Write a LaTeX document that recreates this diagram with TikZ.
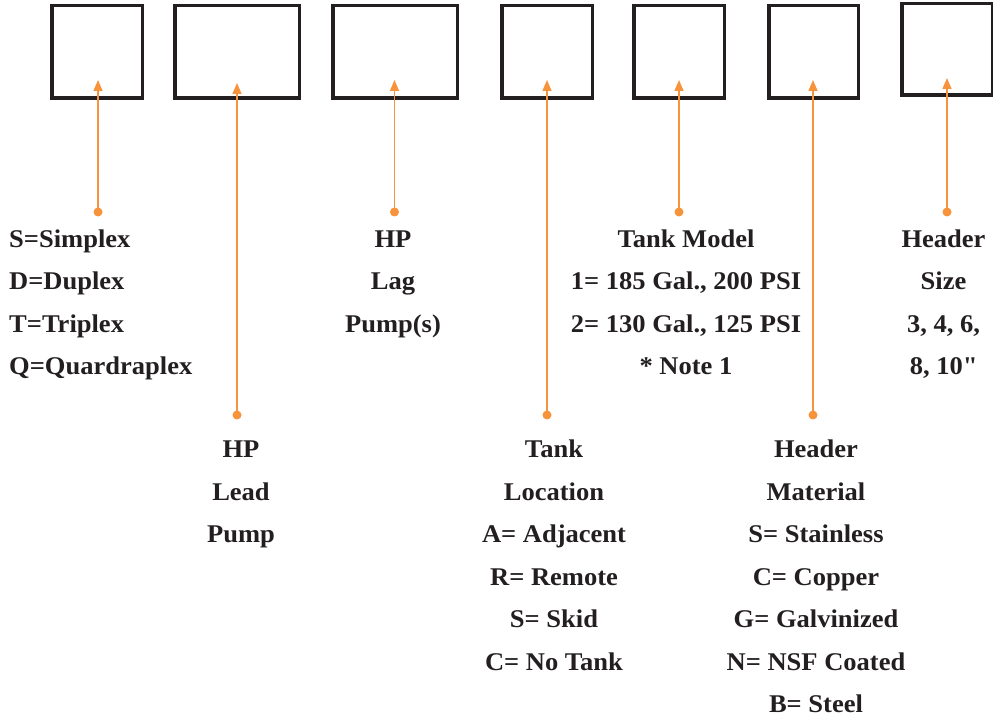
\documentclass[tikz,border=0pt]{standalone}
\usepackage{fontspec}
\setmainfont[FakeStretch=1.04]{Liberation Serif}
\usetikzlibrary{arrows.meta}
\definecolor{ink}{RGB}{35,31,32}
\definecolor{orng}{RGB}{247,148,59}
\begin{document}
\begin{tikzpicture}[x=1pt,y=-1pt,
  box/.style={draw=ink,line width=3.5pt,inner sep=0pt,minimum height=92.5pt},
  dot/.style={circle,fill=orng,inner sep=0pt,minimum size=9pt},
  conn/.style={draw=orng,line width=1.5pt,-{Triangle[length=11pt,width=9pt]},shorten <=-2pt},
  lbl/.style={text=ink,inner sep=0pt,align=center,anchor=north,
    font=\fontsize{25.5}{42.5}\selectfont\bfseries},
  lbll/.style={lbl,align=left,anchor=north west}]
\useasboundingbox (0,0) rectangle (993,719);
% boxes
\node[box,minimum width=90.5pt] (b1) at (97,52) {};
\node[box,minimum width=124.5pt] (b2) at (237,52) {};
\node[box,minimum width=124.5pt] (b3) at (395,52) {};
\node[box,minimum width=90.5pt] (b4) at (547,52) {};
\node[box,minimum width=90.5pt] (b5) at (679,52) {};
\node[box,minimum width=89.5pt] (b6) at (813.5,52) {};
\node[box,minimum width=90.5pt,minimum height=91.5pt] (b7) at (947,49.5) {};
% arrow tips
\coordinate (t1) at (98,80);
\coordinate (t2) at (237,83);
\coordinate (t3) at (394.5,80);
\coordinate (t4) at (547,80);
\coordinate (t5) at (679,80);
\coordinate (t6) at (813,80);
\coordinate (t7) at (947,78);
% dots
\node[dot] (d1) at (98,212) {};
\node[dot] (d2) at (237,415) {};
\node[dot] (d3) at (394.5,212) {};
\node[dot] (d4) at (547,415) {};
\node[dot] (d5) at (679,212) {};
\node[dot] (d6) at (813,415) {};
\node[dot] (d7) at (947,212) {};
\foreach \i in {1,...,7} \draw[conn] (d\i.center) -- (t\i);
% labels
\node[lbll] (l1) at (9,{247-29.75}) {\strut S=Simplex\\D=Duplex\\T=Triplex\\Q=Quardraplex};
\node[lbl] (l2) at (241,{457.5-29.75}) {\strut HP\\Lead\\Pump};
\node[lbl] (l3) at (393,{247-29.75}) {\strut HP\\Lag\\Pump(s)};
\node[lbl] (l4) at (554,{457.5-29.75}) {\strut Tank\\Location\\A= Adjacent\\R= Remote\\S= Skid\\C= No Tank};
\node[lbl] (l5) at (686,{247-29.75}) {\strut Tank Model\\1= 185 Gal., 200 PSI\\2= 130 Gal., 125 PSI\\* Note 1};
\node[lbl] (l6) at (816,{457.5-29.75}) {\strut Header\\Material\\S= Stainless\\C= Copper\\G= Galvinized\\N= NSF Coated\\B= Steel};
\node[lbl] (l7) at (943.5,{247-29.75}) {\strut Header\\Size\\3, 4, 6,\\8, 10\textquotedbl};
\end{tikzpicture}
\end{document}
